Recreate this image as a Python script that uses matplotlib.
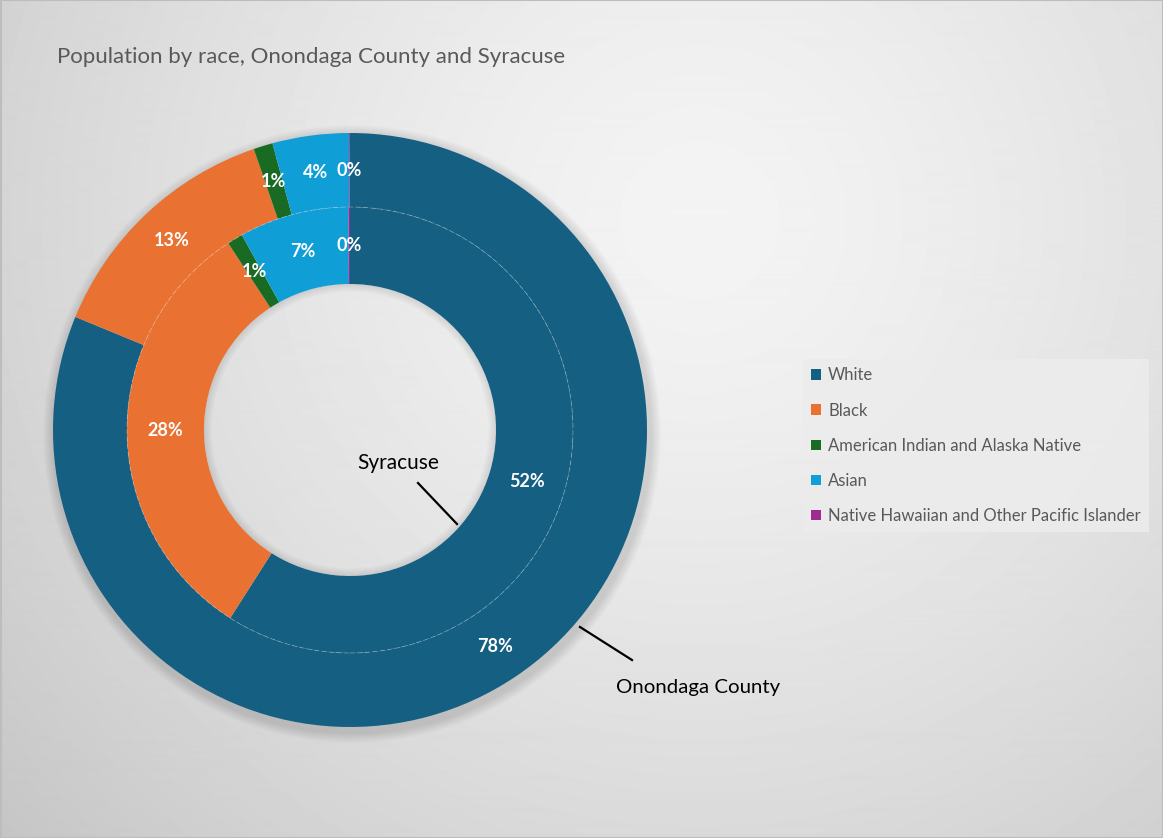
import numpy as np
import matplotlib
matplotlib.use("Agg")
import matplotlib.pyplot as plt
from matplotlib.patches import Patch, Circle, Wedge

# Données
categories = ["White", "Black", "American Indian and Alaska Native", "Asian",
              "Native Hawaiian and Other Pacific Islander"]
county_pct = [78, 13, 1, 4, 0.04]      # Onondaga County (anneau extérieur)
syracuse_pct = [52, 28, 1, 7, 0.1]      # Syracuse (anneau intérieur)
county_labels = ["78%", "13%", "1%", "4%", "0%"]
syracuse_labels = ["52%", "28%", "1%", "7%", "0%"]
colors = ["#156082", "#E97132", "#196B24", "#0F9ED5", "#A02B93"]

W, H = 1163, 838
plt.rcParams["font.family"] = ["Lato", "DejaVu Sans"]

fig = plt.figure(figsize=(W / 100, H / 100), dpi=100)
ax = fig.add_axes([0, 0, 1, 1])

# fond dégradé radial (ligne 0 = haut de l'image)
yy, xx = np.mgrid[0:H, 0:W]
d = np.hypot(xx - 700, yy - 220) / 1000.0
bg = np.clip(0.955 - 0.2 * d ** 1.4, 0, 1)
ax.imshow(bg, cmap="gray", vmin=0, vmax=1, extent=(0, W, 0, H),
          origin="upper", zorder=0, interpolation="bilinear")

cx, cy = 350, H - 430
r_out, r_mid, r_in = 297, 223, 146

# ombre douce autour de l'anneau extérieur
for k in range(10):
    ax.add_patch(Wedge((cx + 2, cy - 4), r_out + 12 - k, 0, 360,
                       width=20 - k, color="black", alpha=0.012, lw=0, zorder=1))
# légère ombre dans le trou central
for k in range(8):
    ax.add_patch(Wedge((cx, cy), r_in, 0, 360, width=8 - k, color="black",
                       alpha=0.01, lw=0, zorder=1))

w_out, _ = ax.pie(county_pct, colors=colors, radius=r_out, center=(cx, cy),
                  startangle=90, counterclock=False, frame=True,
                  wedgeprops=dict(width=r_out - r_mid, linewidth=0))
w_in, _ = ax.pie(syracuse_pct, colors=colors, radius=r_mid, center=(cx, cy),
                 startangle=90, counterclock=False, frame=True,
                 wedgeprops=dict(width=r_mid - r_in, linewidth=0))
ax.set_xlim(0, W)
ax.set_ylim(0, H)
ax.set_aspect("equal")
ax.axis("off")
for wd in w_out + w_in:
    wd.set_zorder(2)

# séparation entre anneaux
ax.add_patch(Circle((cx, cy), r_mid, fill=False, ec="white", lw=0.6,
                    alpha=0.3, ls=(0, (6, 3)), zorder=3))


def put_labels(wedges, labels, rad):
    for wd, lab in zip(wedges, labels):
        ang = np.deg2rad((wd.theta1 + wd.theta2) / 2)
        ax.text(cx + rad * np.cos(ang), cy + rad * np.sin(ang), lab,
                ha="center", va="center", color="white", fontsize=13,
                fontweight="bold", zorder=5)


put_labels(w_out, county_labels, (r_out + r_mid) / 2)
put_labels(w_in, syracuse_labels, (r_mid + r_in) / 2)

# étiquettes des anneaux
ax.text(398, H - 463, "Syracuse", ha="center", va="center", fontsize=15,
        color="black", zorder=5)
ax.plot([418, 457], [H - 483, H - 524], color="black", lw=1.6, zorder=5)
ax.text(698, H - 687, "Onondaga County", ha="center", va="center",
        fontsize=14.7, color="black", zorder=5)
ax.plot([580, 632], [H - 627, H - 660], color="black", lw=1.6, zorder=5)

# titre
ax.text(57, H - 57, "Population by race, Onondaga County and Syracuse",
        ha="left", va="center", fontsize=16, color="#595959", zorder=5)

# légende
handles = [Patch(facecolor=c, edgecolor="none") for c in colors]
leg = ax.legend(handles, categories, loc="upper left",
                bbox_to_anchor=(803 / W, 1 - 359 / H), bbox_transform=fig.transFigure,
                frameon=True, fancybox=False, fontsize=12, labelcolor="#595959",
                handlelength=0.6, handleheight=0.6, handletextpad=0.4,
                labelspacing=1.15, borderpad=0.5, borderaxespad=0)
leg.get_frame().set_facecolor("#ececec")
leg.get_frame().set_edgecolor("none")
leg.get_frame().set_alpha(0.9)
leg.set_zorder(6)

# bordure
ax.add_patch(plt.Rectangle((0.5, 0.5), W - 1, H - 1, fill=False,
                           ec="#bdbdbd", lw=1.5, zorder=7))

fig.savefig("out.png", dpi=100)
